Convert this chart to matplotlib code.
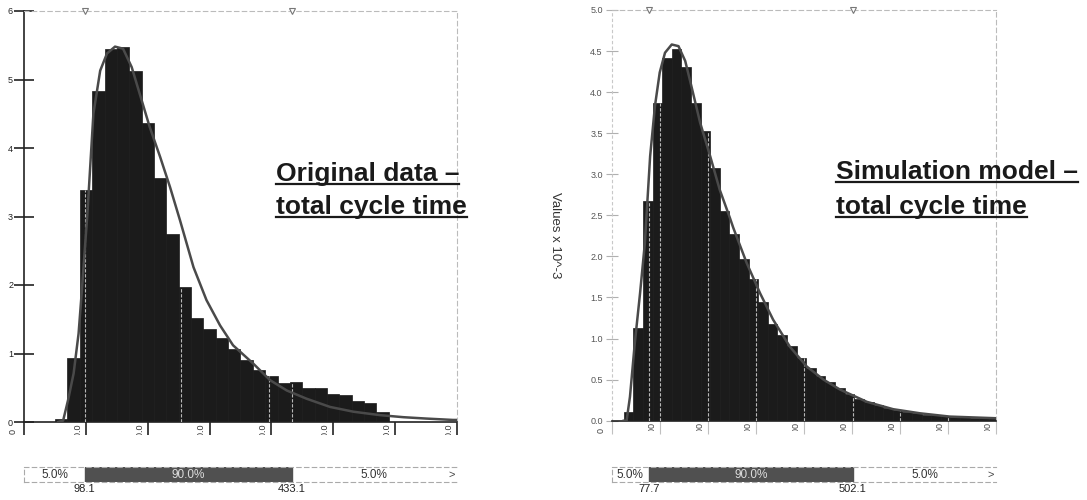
import numpy as np
import matplotlib
matplotlib.use('Agg')
import matplotlib.pyplot as plt
from matplotlib.lines import Line2D
from matplotlib.transforms import ScaledTranslation, Bbox, TransformedBbox

plt.rcParams['font.family'] = ['Liberation Sans', 'DejaVu Sans']

W, H = 1087, 500

# ---- original data (left panel) ----
orig_bin_start = 50
orig_bin_width = 20
orig_heights = [0.05, 0.93, 3.38, 4.83, 5.45, 5.48, 5.12, 4.37, 3.56, 2.74,
                1.97, 1.52, 1.36, 1.23, 1.06, 0.91, 0.76, 0.67, 0.57, 0.59,
                0.50, 0.49, 0.41, 0.39, 0.30, 0.28, 0.14]
orig_fit_x = [55, 63, 71, 80, 88, 93, 98, 102, 112, 123, 134, 147, 160, 174,
              187, 203, 220, 236, 252, 274, 295, 317, 338, 371, 398, 425, 457,
              495, 533, 576, 614, 651, 694, 700]
orig_fit_y = [0.0, 0.02, 0.32, 0.71, 1.29, 1.88, 2.51, 3.0, 4.5, 5.13, 5.38,
              5.48, 5.45, 5.18, 4.79, 4.31, 3.87, 3.43, 2.95, 2.26, 1.78, 1.41,
              1.12, 0.85, 0.61, 0.46, 0.34, 0.22, 0.15, 0.10, 0.07, 0.05, 0.03,
              0.03]
orig_quant = [98.1, 433.1]
orig_quant_txt = ['98.1', '433.1']
orig_marks = [98.1, 254, 396, 433.1]
orig_xticks = [0, 100, 200, 300, 400, 500, 600, 700]
orig_xlabels = ['0', '100.0', '200.0', '300.0', '400.0', '500.0', '600.0', '700.0']
orig_yticks = [0, 1, 2, 3, 4, 5, 6]
orig_ylabels = ['0', '1', '2', '3', '4', '5', '6']

# ---- simulation model (right panel) ----
sim_bin_start = 25
sim_bin_width = 20
sim_heights = [0.11, 1.13, 2.67, 3.87, 4.42, 4.52, 4.31, 3.87, 3.53, 3.08,
               2.55, 2.27, 1.97, 1.73, 1.45, 1.18, 1.04, 0.91, 0.76, 0.64,
               0.55, 0.47, 0.40, 0.33, 0.27, 0.23, 0.19, 0.15, 0.13, 0.11,
               0.09, 0.075, 0.065, 0.055, 0.045, 0.04, 0.035, 0.03, 0.03, 0.03]
sim_fit_x = [25, 31, 38, 48, 59, 69, 80, 90, 100, 111, 125, 139, 153, 166,
             184, 205, 225, 246, 253, 281, 309, 336, 371, 406, 441, 475, 531,
             586, 642, 704, 800]
sim_fit_y = [0.0, 0.0, 0.29, 0.94, 1.55, 2.16, 3.22, 3.83, 4.24, 4.48, 4.58,
             4.56, 4.38, 4.07, 3.63, 3.22, 2.81, 2.47, 2.35, 1.92, 1.55, 1.23,
             0.90, 0.66, 0.50, 0.38, 0.23, 0.14, 0.09, 0.05, 0.03]
sim_quant = [77.7, 502.1]
sim_quant_txt = ['77.7', '502.1']
sim_marks = [77.7, 100, 200, 300, 400, 502.1, 600, 700]
sim_xticks = [0, 100, 200, 300, 400, 500, 600, 700, 800]
sim_xlabels = ['0', '100', '200', '300', '400', '500', '600', '700', '800']
sim_yticks = [0.0, 0.5, 1.0, 1.5, 2.0, 2.5, 3.0, 3.5, 4.0, 4.5, 5.0]
sim_ylabels = ['0.0', '0.5', '1.0', '1.5', '2.0', '2.5', '3.0', '3.5', '4.0', '4.5', '5.0']


def px(x0, y0, x1, y1):
    return [x0 / W, 1 - y1 / H, (x1 - x0) / W, (y1 - y0) / H]


fig = plt.figure(figsize=(W / 100, H / 100), dpi=100)


def panel(rect, heights, start, width, fit_x, fit_y, xmax, ymax, xticks, xlabels,
          yticks, ylabels, marks, quant, quant_txt, dark_axes, cut):
    ax = fig.add_axes(px(*rect))
    lefts = [start + i * width for i in range(len(heights))]
    ax.bar(lefts, heights, width=width, align='edge', color='#1b1b1b',
           edgecolor='#1b1b1b', linewidth=0.5, zorder=2)
    # light marker lines only show up inside the dark bars
    for m in marks:
        i = int((m - start) // width)
        if 0 <= i < len(heights):
            ax.vlines(m, 0, heights[i], color='#b8b8b8', lw=0.8,
                      linestyles=(0, (3, 1.5)), zorder=3)
    ax.plot(fit_x, fit_y, color='#4a4a4a', lw=1.8, zorder=4)
    ax.plot(quant, [ymax, ymax], ls='none', marker='v', ms=5, mfc='white',
            mec='#777777', mew=0.8, clip_on=False, zorder=5)
    ax.set_xlim(0, xmax)
    ax.set_ylim(0, ymax)
    ax.set_yticks(yticks)
    ax.set_yticklabels(ylabels)
    ax.set_xticks(xticks)
    ax.set_xticklabels(xlabels, rotation=90)
    for s in ['top', 'right']:
        ax.spines[s].set_color('#bbbbbb')
        ax.spines[s].set_linestyle((0, (4, 3)))
        ax.spines[s].set_linewidth(0.8)
    ax.spines['bottom'].set_color('#222222')
    ax.spines['bottom'].set_linewidth(1.2)
    if dark_axes:
        ax.spines['left'].set_color('#222222')
        ax.spines['left'].set_linewidth(1.2)
        ax.tick_params(axis='y', direction='inout', length=14, width=1.2,
                       color='#222222', labelsize=6.5, labelcolor='#222222', pad=1)
        ax.tick_params(axis='x', direction='out', length=9, width=1.2,
                       color='#222222', labelsize=6.5, labelcolor='#333333', pad=1)
    else:
        ax.spines['left'].set_color('#c8c8c8')
        ax.spines['left'].set_linestyle((0, (2, 3)))
        ax.spines['left'].set_linewidth(0.8)
        ax.tick_params(axis='y', direction='inout', length=9, width=0.8,
                       color='#b0b0b0', labelsize=6.5, labelcolor='#555555', pad=2)
        ax.tick_params(axis='x', direction='out', length=9, width=0.8,
                       color='#c0c0c0', labelsize=6.5, labelcolor='#444444', pad=1)
    # tick labels sit left of the marks, start at the axis and are cut off
    clip = TransformedBbox(Bbox([[0, 1 - cut / H], [1, 1 - 421 / H]]), fig.transFigure)
    for k, lab in enumerate(ax.get_xticklabels()):
        dy = 0.125 if k > 0 else 0.07
        dx = -0.08 if k > 0 else -0.11
        lab.set_transform(lab.get_transform() +
                          ScaledTranslation(dx, dy, fig.dpi_scale_trans))
        if k > 0:
            lab.set_clip_box(clip)
            lab.set_clip_on(True)

    # percentile bar under the chart
    bax = fig.add_axes(px(rect[0], 467, rect[2], 482))
    bax.set_xlim(0, xmax)
    bax.set_ylim(0, 1)
    bax.axvspan(quant[0], quant[1], color='#505050')
    bax.set_xticks([])
    bax.set_yticks([])
    for s in ['top', 'bottom', 'left']:
        bax.spines[s].set_color('#aaaaaa')
        bax.spines[s].set_linestyle((0, (4, 3)))
        bax.spines[s].set_linewidth(0.8)
    bax.spines['right'].set_visible(False)
    bax.text(quant[0] / 2, 0.5, '5.0%', ha='center', va='center', fontsize=8.5,
             color='#333333')
    bax.text((quant[0] + quant[1]) / 2, 0.5, '90.0%', ha='center', va='center',
             fontsize=8.5, color='#dddddd')
    bax.text((quant[1] + xmax) / 2, 0.5, '5.0%', ha='center', va='center',
             fontsize=8.5, color='#333333')
    bax.text(xmax * 0.995, 0.5, '>', ha='right', va='center', fontsize=8,
             color='#444444')
    for q, t in zip(quant, quant_txt):
        bax.text(q, -0.1, t, ha='center', va='top', fontsize=8, color='#222222')
    return ax


ax1 = panel((24.2, 11, 456.7, 422), orig_heights, orig_bin_start, orig_bin_width,
            orig_fit_x, orig_fit_y, 700, 6, orig_xticks, orig_xlabels,
            orig_yticks, orig_ylabels, orig_marks, orig_quant, orig_quant_txt,
            True, 435)
ax2 = panel((611.7, 10, 996, 420.7), sim_heights, sim_bin_start, sim_bin_width,
            sim_fit_x, sim_fit_y, 800, 5.0, sim_xticks, sim_xlabels,
            sim_yticks, sim_ylabels, sim_marks, sim_quant, sim_quant_txt,
            False, 431)

fig.text(555 / W, 1 - 235 / H, 'Values x 10^-3', rotation=-90, ha='center',
         va='center', fontsize=9.5, color='#333333')

# underlined headings
renderer = fig.canvas.get_renderer()


def heading(x, baselines, lines):
    for yb, line in zip(baselines, lines):
        t = fig.text(x / W, 1 - yb / H, line, fontsize=19, fontweight='bold',
                     color='#1a1a1a', va='baseline', ha='left')
        bb = t.get_window_extent(renderer=renderer)
        yl = 1 - (yb + 3) / H
        fig.add_artist(Line2D([bb.x0 / W, bb.x1 / W], [yl, yl],
                              transform=fig.transFigure, color='#1a1a1a', lw=1.6))


heading(276, [181, 214], ['Original data \u2013', 'total cycle time'])
heading(836, [179, 214], ['Simulation model \u2013', 'total cycle time'])

fig.savefig('out.png', dpi=100)
